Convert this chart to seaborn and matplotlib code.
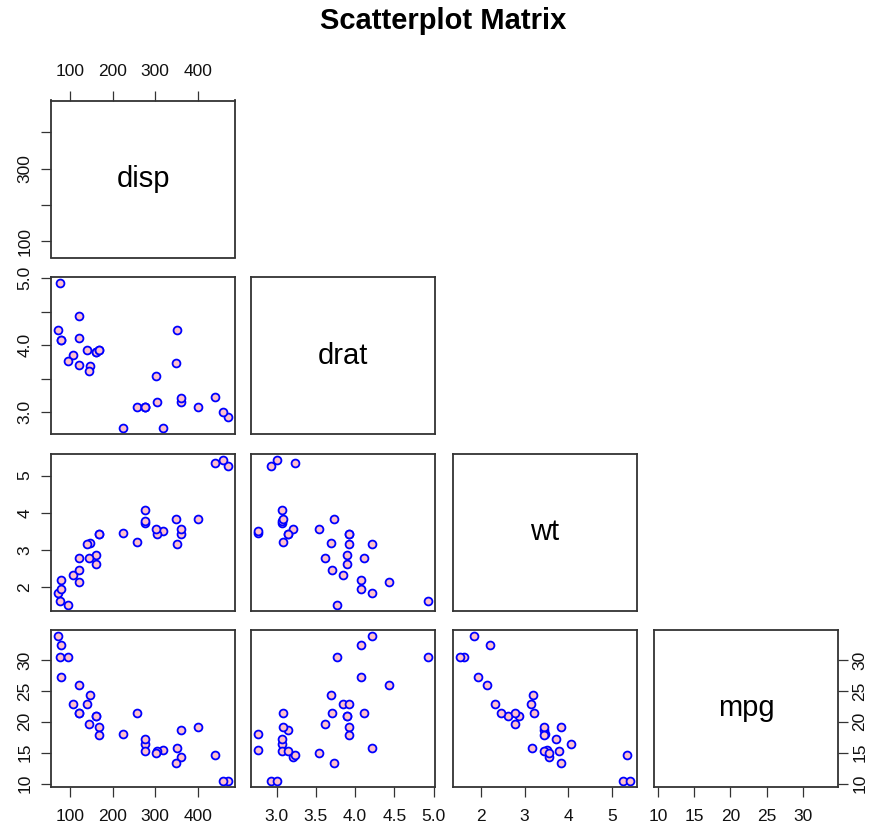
import matplotlib
matplotlib.use("Agg")
import matplotlib.pyplot as plt
import numpy as np
import pandas as pd
import seaborn as sns

# mtcars columns used in the chart
disp = [160, 160, 108, 258, 360, 225, 360, 146.7, 140.8, 167.6, 167.6, 275.8, 275.8, 275.8, 472, 460,
        440, 78.7, 75.7, 71.1, 120.1, 318, 304, 350, 400, 79, 120.3, 95.1, 351, 145, 301, 121]
drat = [3.90, 3.90, 3.85, 3.08, 3.15, 2.76, 3.21, 3.69, 3.92, 3.92, 3.92, 3.07, 3.07, 3.07, 2.93, 3.00,
        3.23, 4.08, 4.93, 4.22, 3.70, 2.76, 3.15, 3.73, 3.08, 4.08, 4.43, 3.77, 4.22, 3.62, 3.54, 4.11]
wt = [2.620, 2.875, 2.320, 3.215, 3.440, 3.460, 3.570, 3.190, 3.150, 3.440, 3.440, 4.070, 3.730, 3.780,
      5.250, 5.424, 5.345, 2.200, 1.615, 1.835, 2.465, 3.520, 3.435, 3.840, 3.845, 1.935, 2.140, 1.513,
      3.170, 2.770, 3.570, 2.780]
mpg = [21.0, 21.0, 22.8, 21.4, 18.7, 18.1, 14.3, 24.4, 22.8, 19.2, 17.8, 16.4, 17.3, 15.2, 10.4, 10.4,
       14.7, 32.4, 30.4, 33.9, 21.5, 15.5, 15.2, 13.3, 19.2, 27.3, 26.0, 30.4, 15.8, 19.7, 15.0, 21.4]

variables = ["disp", "drat", "wt", "mpg"]
ticks = {
    "disp": [100, 200, 300, 400],
    "drat": [3.0, 3.5, 4.0, 4.5, 5.0],
    "wt": [2, 3, 4, 5],
    "mpg": [10, 15, 20, 25, 30],
}
xlabels = {
    "disp": ["100", "200", "300", "400"],
    "drat": ["3.0", "3.5", "4.0", "4.5", "5.0"],
    "wt": ["2", "3", "4", "5"],
    "mpg": ["10", "15", "20", "25", "30"],
}
ylabels = {
    "disp": ["100", "", "300", ""],
    "drat": ["3.0", "", "4.0", "", "5.0"],
    "wt": ["2", "3", "4", "5"],
    "mpg": ["10", "15", "20", "25", "30"],
}

df = pd.DataFrame({"disp": disp, "drat": drat, "wt": wt, "mpg": mpg})

sns.set_style("white")
plt.rcParams['font.family'] = ['Liberation Sans', 'DejaVu Sans']
plt.rcParams['text.color'] = 'black'

W, H = 871, 826
fig = plt.figure(figsize=(W / 100, H / 100), dpi=100)

lefts = [51, 251, 453, 654]
tops = [100.5, 277, 454, 630]
pw, ph = 184, 157

def lims(v):
    lo, hi = df[v].min(), df[v].max()
    pad = (hi - lo) * 0.04
    return lo - pad, hi + pad

n = len(variables)
for i, yv in enumerate(variables):
    for j, xv in enumerate(variables):
        if j > i:
            continue
        ax = fig.add_axes([lefts[j] / W, 1 - (tops[i] + ph) / H, pw / W, ph / H])
        if i == j:
            ax.text(0.5, 0.5, yv, transform=ax.transAxes, ha='center', va='center',
                    fontsize=21, color='black')
        else:
            sns.scatterplot(data=df, x=xv, y=yv, ax=ax, color="pink", edgecolor="blue",
                            s=32, linewidth=1.3, legend=False)
        ax.set_xlim(lims(xv))
        ax.set_ylim(lims(yv))
        ax.set_xlabel("")
        ax.set_ylabel("")
        for sp in ax.spines.values():
            sp.set_visible(True)
            sp.set_color("#333333")
            sp.set_linewidth(1.3)

        ax.set_xticks(ticks[xv], xlabels[xv])
        ax.set_yticks(ticks[yv], ylabels[yv], rotation=90, va='center')
        ax.tick_params(direction='out', length=7.5, width=0.9, color='#333333',
                       labelsize=12.5, labelcolor='#111111')
        ax.tick_params(axis='x', pad=8)
        ax.tick_params(axis='y', pad=6)
        ax.tick_params(axis='y', which='both', right=False)

        show_bottom = (i == n - 1)
        show_top = (i == 0 and j == 0)
        show_left = (j == 0)
        show_right = (i == n - 1 and j == n - 1)
        ax.tick_params(bottom=show_bottom, labelbottom=show_bottom,
                       top=show_top, labeltop=show_top,
                       left=show_left, labelleft=show_left,
                       right=show_right, labelright=show_right)
        if show_right:
            ax.tick_params(axis='y', pad=3)

fig.text(443 / W, 1 - 21 / H, "Scatterplot Matrix", ha='center', va='center',
         fontsize=21, fontweight='bold')

plt.savefig("out.png", dpi=100)
